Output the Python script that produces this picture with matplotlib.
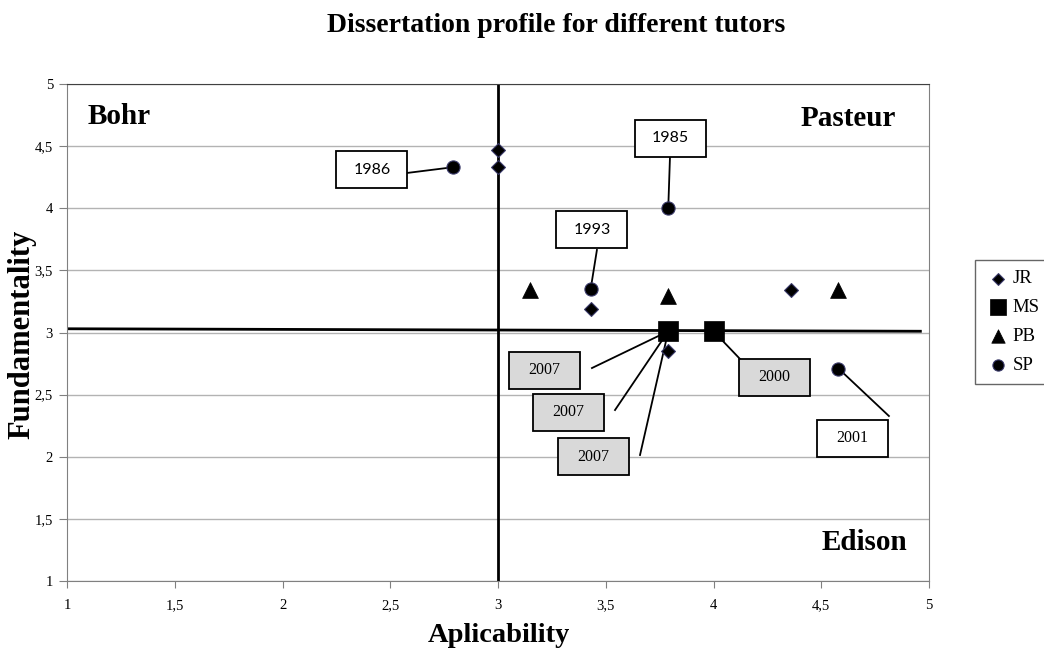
import matplotlib
matplotlib.use("Agg")
import matplotlib.pyplot as plt
from matplotlib.patches import Rectangle

# ---- data ----
jr_x = [3.0, 3.0, 3.43, 3.79, 4.36]
jr_y = [4.47, 4.33, 3.19, 2.85, 3.34]
ms_x = [3.79, 4.0]
ms_y = [3.01, 3.01]
pb_x = [3.15, 3.79, 4.58]
pb_y = [3.34, 3.29, 3.34]
sp_x = [2.79, 3.79, 3.43, 4.58]
sp_y = [4.33, 4.0, 3.35, 2.71]

series_names = ["JR", "MS", "PB", "SP"]

# annotation labels, the point each refers to, box centre and line start
ann_text = ["1986", "1985", "1993", "2007", "2007", "2007", "2000", "2001"]
ann_pt = [(2.79, 4.33), (3.79, 4.0), (3.43, 3.35), (3.79, 3.01), (3.79, 3.01),
          (3.79, 3.01), (4.0, 3.01), (4.58, 2.71)]
ann_box = [(2.415, 4.31), (3.80, 4.565), (3.436, 3.825), (3.216, 2.698),
           (3.327, 2.36), (3.443, 1.998), (4.283, 2.638), (4.643, 2.147)]
ann_start = [(2.578, 4.284), (3.798, 4.41), (3.459, 3.664), (3.436, 2.714),
             (3.543, 2.376), (3.659, 2.014), (4.123, 2.787), (4.814, 2.328)]
ann_face = ["white", "white", "white", "#d9d9d9", "#d9d9d9", "#d9d9d9", "#d9d9d9", "white"]
ann_font = ["sans", "sans", "sans", "serif", "serif", "serif", "serif", "serif"]

quad_labels = ["Bohr", "Pasteur", "Edison"]

x_ticks = [1, 1.5, 2, 2.5, 3, 3.5, 4, 4.5, 5]
y_ticks = [1, 1.5, 2, 2.5, 3, 3.5, 4, 4.5, 5]

plt.rcParams['font.family'] = ['Liberation Serif', 'DejaVu Serif']

W, H = 1044, 651
fig = plt.figure(figsize=(W / 100, H / 100), dpi=100)
ax = fig.add_axes([67 / W, 1 - 581 / H, (929 - 67) / W, (581 - 84) / H])

ax.set_xlim(1, 5)
ax.set_ylim(1, 5)
ax.set_xticks(x_ticks)
ax.set_yticks(y_ticks)
fmt = lambda v: (f"{v:g}").replace(".", ",")
ax.set_xticklabels([fmt(v) for v in x_ticks], fontsize=10.5)
ax.set_yticklabels([fmt(v) for v in y_ticks], fontsize=10.5)
ax.yaxis.grid(True, color="#b3b3b3", lw=1)
ax.set_axisbelow(True)
for s in ax.spines.values():
    s.set_color("#808080")
ax.spines["top"].set_color("#404040")
ax.tick_params(axis="y", direction="out", length=6, color="#808080", pad=4)
ax.tick_params(axis="x", direction="out", length=5, color="#808080", pad=8)

# quadrant lines
ax.plot([3, 3], [1, 5], color="black", lw=2, zorder=2)
ax.plot([1.0, 4.96], [3.03, 3.01], color="black", lw=2, zorder=2)

edge = "#3a3a6a"
ax.scatter(jr_x, jr_y, marker="D", s=50, c="black", edgecolors=edge, lw=0.8, zorder=4, label=series_names[0])
ax.scatter(ms_x, ms_y, marker="s", s=190, c="black", edgecolors="black", lw=0.5, zorder=4, label=series_names[1])
ax.scatter(pb_x, pb_y, marker="^", s=130, c="black", edgecolors="black", lw=0.5, zorder=4, label=series_names[2])
ax.scatter(sp_x, sp_y, marker="o", s=90, c="black", edgecolors=edge, lw=0.8, zorder=4, label=series_names[3])

# annotation boxes (fixed pixel size converted to data units)
bw = 71 / ((929 - 67) / 4)
bh = 37 / ((581 - 84) / 4)
for t, p, c, st, fc, ff in zip(ann_text, ann_pt, ann_box, ann_start, ann_face, ann_font):
    ax.plot([st[0], p[0]], [st[1], p[1]], color="black", lw=1.3, zorder=3)
    ax.add_patch(Rectangle((c[0] - bw / 2, c[1] - bh / 2), bw, bh, facecolor=fc,
                           edgecolor="black", lw=1.3, zorder=5))
    fam = ['Lato', 'DejaVu Sans'] if ff == "sans" else ['Liberation Serif']
    ax.text(c[0], c[1], t, ha="center", va="center", fontsize=11.5, family=fam, zorder=6)

# quadrant names (pixel anchors)
fig.text(88 / W, 1 - 117 / H, quad_labels[0], fontsize=21, fontweight="bold", ha="left", va="center")
fig.text(896 / W, 1 - 118 / H, quad_labels[1], fontsize=21, fontweight="bold", ha="right", va="center")
fig.text(907 / W, 1 - 543 / H, quad_labels[2], fontsize=21, fontweight="bold", ha="right", va="center")

fig.text(499 / W, 1 - 635 / H, "Aplicability", fontsize=20.5, fontweight="bold", ha="center", va="center")
fig.text(22 / W, 1 - 334 / H, "Fundamentality", fontsize=22, fontweight="bold", ha="center",
         va="center", rotation=90)

fig.text(556 / W, 1 - 25 / H, "Dissertation profile for different tutors",
         ha="center", va="center", fontsize=20, fontweight="bold")

leg = fig.legend(loc="upper left", bbox_to_anchor=(975 / W, 1 - 260 / H),
                 fontsize=13.5, frameon=True, fancybox=False, edgecolor="#404040",
                 handlelength=1.4, handletextpad=0.05, borderpad=0.55,
                 labelspacing=0.62, markerscale=0.85, borderaxespad=0)
leg.get_frame().set_linewidth(1)

fig.savefig("out.png", dpi=100)
